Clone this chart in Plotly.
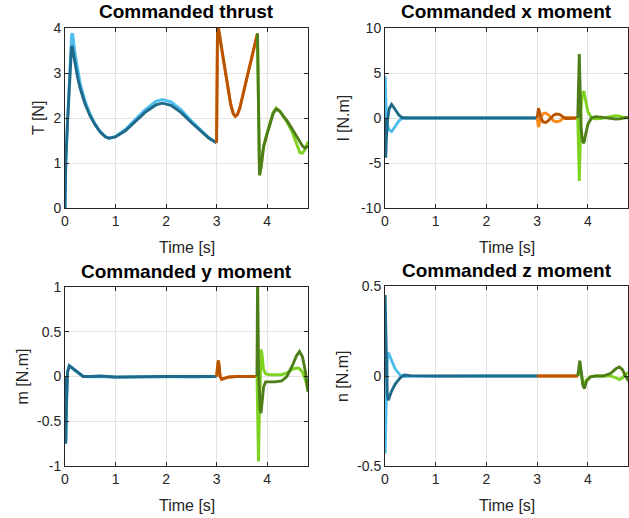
import plotly.graph_objects as go

# ---------------- data ----------------
# Commanded thrust T [N]
thrust_t1 = [0, 0.015, 0.05, 0.09, 0.115, 0.13, 0.145, 0.16, 0.2, 0.25, 0.3, 0.4, 0.5, 0.6, 0.7, 0.8, 0.87,
             1.0, 1.2, 1.4, 1.6, 1.8, 1.93, 2.1, 2.3, 2.5, 2.7, 2.85, 3.0]
thrust_light1 = [0, 1.0, 1.95, 3.05, 3.65, 3.84, 3.88, 3.8, 3.42, 3.05, 2.77, 2.37, 2.08, 1.86, 1.7, 1.59, 1.55,
                 1.59, 1.75, 1.98, 2.2, 2.37, 2.41, 2.36, 2.18, 1.94, 1.71, 1.56, 1.45]
thrust_dark1 = [0, 1.0, 1.9, 2.9, 3.45, 3.6, 3.57, 3.47, 3.18, 2.9, 2.66, 2.3, 2.04, 1.84, 1.68, 1.58, 1.55,
                1.58, 1.72, 1.93, 2.14, 2.29, 2.33, 2.28, 2.12, 1.9, 1.69, 1.55, 1.45]
thrust_t2 = [3.0, 3.02, 3.1, 3.2, 3.28, 3.33, 3.37, 3.41, 3.46, 3.55, 3.65, 3.74, 3.81]
thrust_light2 = [1.45, 4.13, 3.55, 2.85, 2.3, 2.1, 2.04, 2.07, 2.22, 2.65, 3.1, 3.5, 3.88]
thrust_dark2 = [1.45, 4.13, 3.55, 2.85, 2.3, 2.1, 2.04, 2.07, 2.22, 2.65, 3.1, 3.5, 3.88]
thrust_t3 = [3.81, 3.83, 3.85, 3.88, 3.93, 4.0, 4.06, 4.12, 4.18, 4.25, 4.33, 4.4, 4.5, 4.6, 4.65, 4.7, 4.75, 4.81]
thrust_light3 = [3.88, 2.0, 0.73, 0.9, 1.36, 1.66, 1.9, 2.12, 2.22, 2.16, 2.02, 1.9, 1.68, 1.38, 1.23, 1.22, 1.3, 1.47]
thrust_dark3 = [3.88, 2.0, 0.73, 0.9, 1.36, 1.65, 1.88, 2.1, 2.2, 2.15, 2.03, 1.93, 1.75, 1.56, 1.46, 1.38, 1.33, 1.38]

# Commanded x moment l [N.m]
xm_t1 = [0, 0.004, 0.014, 0.025, 0.05, 0.08, 0.13, 0.2, 0.27, 0.33, 0.4, 0.6, 1.0, 1.5, 2.0, 2.5, 3.0]
xm_light1 = [0, 4.6, 2.5, 0.3, -0.8, -1.3, -1.5, -0.95, -0.35, -0.05, 0.0, 0.0, 0, 0, 0, 0, 0]
xm_dark1 = [0, -1.5, -4.4, -2.5, -0.2, 1.0, 1.5, 0.95, 0.35, 0.05, 0.0, 0.0, 0, 0, 0, 0, 0]
xm_t2 = [3.0, 3.01, 3.025, 3.05, 3.08, 3.12, 3.17, 3.22, 3.27, 3.32, 3.37, 3.44, 3.5, 3.56, 3.62, 3.7, 3.8]
xm_light2 = [0, -0.6, -1.0, -0.5, 0.15, 0.5, 0.55, 0.35, 0.0, -0.3, -0.42, -0.35, -0.1, 0.05, 0.05, 0.0, 0.0]
xm_dark2 = [0, 0.6, 1.1, 0.6, -0.1, -0.45, -0.5, -0.3, 0.0, 0.3, 0.45, 0.4, 0.15, -0.05, -0.05, 0.0, 0.0]
xm_t3 = [3.8, 3.815, 3.83, 3.845, 3.865, 3.89, 3.92, 3.96, 4.0, 4.07, 4.15, 4.25, 4.35, 4.45, 4.55, 4.62, 4.7, 4.81]
xm_light3 = [0, -3.5, -7.0, -3.5, 1.0, 2.6, 3.0, 1.8, 0.7, 0.0, -0.1, -0.05, 0.05, 0.15, 0.25, 0.2, 0.05, 0.0]
xm_dark3 = [0, 3.5, 7.1, 3.5, -1.0, -2.5, -2.8, -1.7, -0.7, 0.0, 0.15, 0.1, 0.0, -0.1, -0.12, -0.1, 0.0, 0.1]

# Commanded y moment m [N.m]
ym_t1 = [0, 0.005, 0.015, 0.03, 0.05, 0.085, 0.15, 0.25, 0.36, 0.5, 0.7, 1.0, 1.5, 2.0, 2.5, 3.0]
ym_light1 = [0, -0.4, -0.74, -0.3, 0.05, 0.12, 0.09, 0.04, 0.0, -0.003, 0.0, -0.01, -0.005, 0.0, -0.005, 0.0]
ym_dark1 = [0, -0.4, -0.75, -0.3, 0.05, 0.12, 0.09, 0.04, 0.0, 0.0, 0.005, -0.005, 0.0, 0.0, 0.0, 0.0]
ym_t2 = [3.0, 3.02, 3.035, 3.05, 3.07, 3.1, 3.15, 3.25, 3.4, 3.6, 3.8]
ym_light2 = [0, 0.08, 0.18, 0.12, 0.0, -0.03, -0.02, -0.005, 0.0, 0.0, 0.0]
ym_dark2 = [0, 0.08, 0.18, 0.12, 0.0, -0.03, -0.02, -0.005, 0.0, 0.0, 0.0]
ym_t3 = [3.8, 3.805, 3.812, 3.82, 3.83, 3.845, 3.86, 3.88, 3.9, 3.93, 3.97, 4.05, 4.15, 4.29, 4.39, 4.5,
         4.58, 4.64, 4.7, 4.76, 4.81]
ym_light3 = [0, -0.2, -0.5, -0.8, -0.95, -0.5, 0.0, 0.3, 0.25, 0.08, 0.03, 0.02, 0.02, 0.02, 0.04, 0.08,
             0.095, 0.09, 0.05, -0.04, -0.15]
ym_dark3 = [0, 0.6, 1.1, 0.7, 0.1, -0.2, -0.35, -0.41, -0.3, -0.12, -0.06, -0.06, -0.06, -0.05, 0.0, 0.12,
            0.23, 0.28, 0.22, 0.05, -0.17]

# Commanded z moment n [N.m]
zm_t1 = [0, 0.003, 0.02, 0.045, 0.065, 0.12, 0.2, 0.3, 0.38, 0.5, 1.0, 1.5, 2.0, 2.5, 3.0]
zm_light1 = [0, -0.43, -0.2, 0.1, 0.13, 0.09, 0.04, 0.005, -0.003, -0.002, 0.0, 0.0, 0.0, 0.0, 0.0]
zm_dark1 = [0, 0.45, 0.2, -0.1, -0.135, -0.09, -0.045, -0.01, 0.005, 0.002, 0.0, 0.0, 0.0, 0.0, 0.0]
zm_t2 = [3.0, 3.2, 3.4, 3.6, 3.8]
zm_light2 = [0.0, 0.0, 0.0, 0.0, 0.0]
zm_dark2 = [0.0, 0.0, 0.0, 0.0, 0.0]
zm_t3 = [3.8, 3.82, 3.84, 3.87, 3.9, 3.93, 3.97, 4.05, 4.15, 4.3, 4.45, 4.55, 4.62, 4.68, 4.74, 4.81]
zm_light3 = [0, 0.02, 0.05, 0.01, -0.04, -0.05, -0.02, -0.005, 0.0, 0.0, 0.0, -0.01, -0.02, -0.01, 0.01, 0.02]
zm_dark3 = [0, 0.04, 0.085, 0.02, -0.05, -0.07, -0.03, -0.005, 0.0, 0.0, 0.015, 0.04, 0.05, 0.035, 0.0, -0.03]

titles = ["Commanded thrust", "Commanded x moment", "Commanded y moment", "Commanded z moment"]
ylabels = ["T [N]", "l [N.m]", "m [N.m]", "n [N.m]"]
xlabel = "Time [s]"

x_tickvals = [0, 1, 2, 3, 4]
x_ticktext = ["0", "1", "2", "3", "4"]
thrust_tickvals = [0, 1, 2, 3, 4]
thrust_ticktext = ["0", "1", "2", "3", "4"]
xm_tickvals = [-10, -5, 0, 5, 10]
xm_ticktext = ["-10", "-5", "0", "5", "10"]
ym_tickvals = [-1, -0.5, 0, 0.5, 1]
ym_ticktext = ["-1", "-0.5", "0", "0.5", "1"]
zm_tickvals = [-0.5, 0, 0.5]
zm_ticktext = ["-0.5", "0", "0.5"]

# ---------------- style ----------------
C_LBLUE = "#4DBEEE"
C_DBLUE = "#1F6A8A"
C_LORANGE = "#FF8A1C"
C_DORANGE = "#B85400"
C_LGREEN = "#7ED321"
C_DGREEN = "#4E7E18"
colors = [(C_LBLUE, C_DBLUE), (C_LORANGE, C_DORANGE), (C_LGREEN, C_DGREEN)]

W, H = 629, 518
FONT = "Liberation Sans, Arial, Helvetica, sans-serif"
AX = "#262626"
LW = 2.9

panels = [
    dict(segs=[(thrust_t1, thrust_light1, thrust_dark1), (thrust_t2, thrust_light2, thrust_dark2),
               (thrust_t3, thrust_light3, thrust_dark3)],
         box=(65, 308, 28, 208), xr=[0, 4.81], yr=[0, 4], tv=thrust_tickvals, tt=thrust_ticktext, ylx=38),
    dict(segs=[(xm_t1, xm_light1, xm_dark1), (xm_t2, xm_light2, xm_dark2), (xm_t3, xm_light3, xm_dark3)],
         box=(385, 628, 28, 208), xr=[0, 4.79], yr=[-10, 10], tv=xm_tickvals, tt=xm_ticktext, ylx=343),
    dict(segs=[(ym_t1, ym_light1, ym_dark1), (ym_t2, ym_light2, ym_dark2), (ym_t3, ym_light3, ym_dark3)],
         box=(65, 308, 287, 466), xr=[0, 4.81], yr=[-1, 1], tv=ym_tickvals, tt=ym_ticktext, ylx=22),
    dict(segs=[(zm_t1, zm_light1, zm_dark1), (zm_t2, zm_light2, zm_dark2), (zm_t3, zm_light3, zm_dark3)],
         box=(385, 628, 286, 466), xr=[0, 4.79], yr=[-0.5, 0.5], tv=zm_tickvals, tt=zm_ticktext, ylx=342),
]

fig = go.Figure()
layout = dict(width=W, height=H, margin=dict(l=0, r=0, t=0, b=0, autoexpand=False), showlegend=False,
              paper_bgcolor="white", plot_bgcolor="white", font=dict(family=FONT, color=AX, size=14))
annotations = []

for i, p in enumerate(panels):
    n = "" if i == 0 else str(i + 1)
    xa, ya = "x" + n, "y" + n
    for (t, lv, dv), (cl, cd) in zip(p["segs"], colors):
        fig.add_trace(go.Scatter(x=t, y=lv, mode="lines", line=dict(color=cl, width=LW),
                                 xaxis=xa, yaxis=ya, hoverinfo="skip"))
        fig.add_trace(go.Scatter(x=t, y=dv, mode="lines", line=dict(color=cd, width=LW),
                                 xaxis=xa, yaxis=ya, hoverinfo="skip"))
    x0, x1, y0, y1 = p["box"]
    common = dict(showline=True, linecolor=AX, linewidth=1, mirror="ticks", ticks="inside",
                  ticklen=4, tickcolor=AX, showgrid=True, gridcolor="#E3E3E3", gridwidth=1,
                  zeroline=False, tickfont=dict(family=FONT, size=14, color=AX), fixedrange=True,
                  automargin=False)
    layout["xaxis" + n] = dict(common, domain=[x0 / W, x1 / W], range=p["xr"], anchor=ya,
                               tickmode="array", tickvals=x_tickvals, ticktext=x_ticktext)
    layout["yaxis" + n] = dict(common, domain=[1 - y1 / H, 1 - y0 / H], range=p["yr"], anchor=xa,
                               tickmode="array", tickvals=p["tv"], ticktext=p["tt"])
    cx = (x0 + x1) / 2
    annotations.append(dict(text="<b>" + titles[i] + "</b>", x=cx / W, y=1 - (y0 - 16) / H,
                            xref="paper", yref="paper", showarrow=False, xanchor="center",
                            yanchor="middle", font=dict(family=FONT, size=19, color="black")))
    annotations.append(dict(text=xlabel, x=cx / W, y=1 - (y1 + 39) / H, xref="paper", yref="paper",
                            showarrow=False, xanchor="center", yanchor="middle",
                            font=dict(family=FONT, size=16, color=AX)))
    annotations.append(dict(text=ylabels[i], x=p["ylx"] / W, y=1 - ((y0 + y1) / 2) / H, xref="paper",
                            yref="paper", showarrow=False, xanchor="center", yanchor="middle",
                            textangle=-90, font=dict(family=FONT, size=16, color=AX)))

layout["annotations"] = annotations
fig.update_layout(**layout)
fig.write_html("out.html", config={"displayModeBar": False, "staticPlot": True},
               post_script="document.body.style.margin='0px';")
